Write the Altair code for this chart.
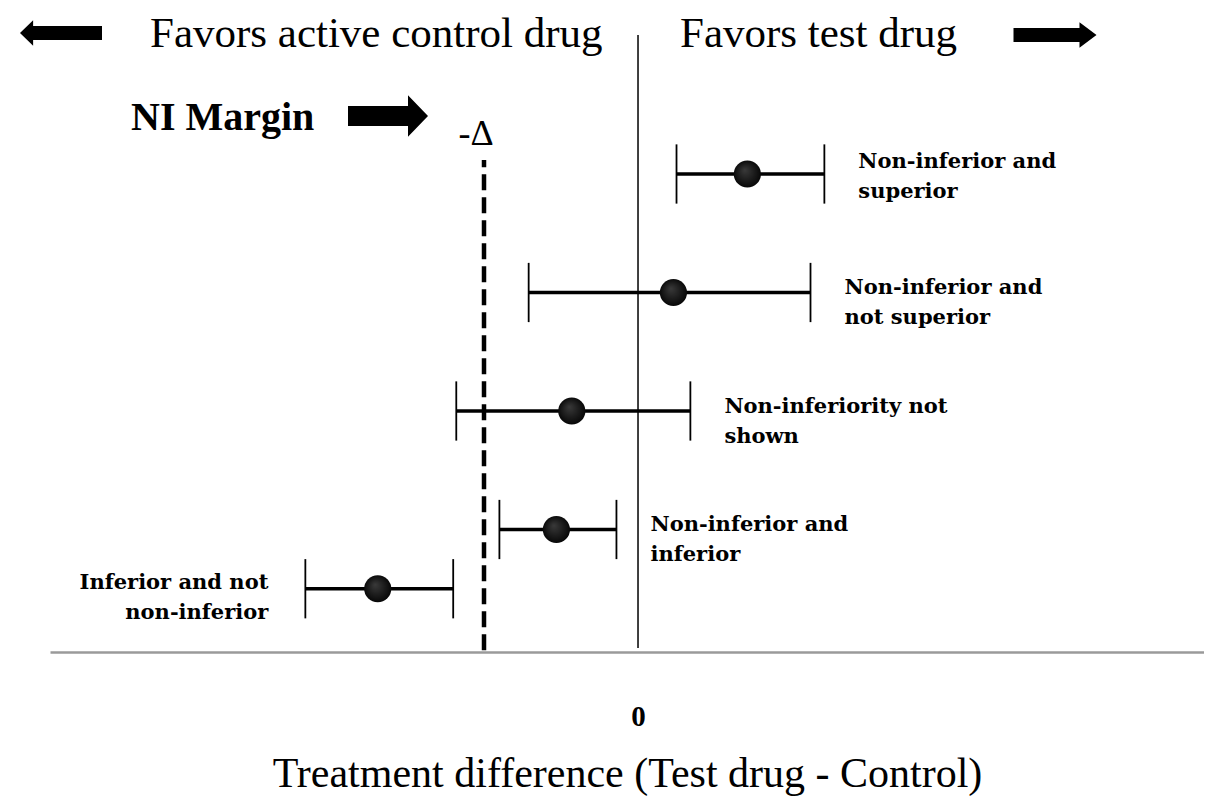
import altair as alt
import pandas as pd

# ---- data (treatment difference in units of the NI margin Δ) ----
labels = [
    "Non-inferior and\nsuperior",
    "Non-inferior and\nnot superior",
    "Non-inferiority not\nshown",
    "Non-inferior and\ninferior",
    "Inferior and not\nnon-inferior",
]
row_pos = [4.0, 3.0, 2.0, 1.0, 0.5]
ci_low = [0.25, -0.71, -1.18, -0.90, -2.16]
estimate = [0.71, 0.23, -0.43, -0.53, -1.69]
ci_high = [1.21, 1.12, 0.34, -0.14, -1.20]
label_side = ["right", "right", "right", "right", "left"]
ni_margin = [-1.0]
zero_ref = [0.0]

df = pd.DataFrame({
    "label": labels, "row": row_pos, "lo": ci_low, "est": estimate,
    "hi": ci_high, "side": label_side,
})
df["cap_lo"] = df["row"] - 0.25
df["cap_hi"] = df["row"] + 0.25

SERIF = "Liberation Serif"
LABEL_FONT = "DejaVu Serif"
W, H = 1154, 644
xs = alt.Scale(domain=[-3.818, 3.675], nice=False, zero=False)
ys = alt.Scale(domain=[-0.0338, 5.4008], nice=False, zero=False)

base = alt.Chart(df)

X_AX = alt.Axis(
    values=[0], labelExpr="'0'", ticks=False, grid=False,
    domainColor="#9a9a9a", domainWidth=2.5,
    labelFont=SERIF, labelFontSize=29, labelFontWeight="bold", labelColor="black",
    labelPadding=50, title="Treatment difference (Test drug - Control)",
    titleFont=SERIF, titleFontSize=42, titleFontWeight="normal", titleColor="black",
    titlePadding=22,
)

zero_df = pd.DataFrame({"x": zero_ref, "y1": [0.0], "y2": [5.173]})
zero_line = alt.Chart(zero_df).mark_rule(color="black", strokeWidth=1.5).encode(
    x=alt.X("x:Q", scale=xs, axis=X_AX),
    y=alt.Y("y1:Q", scale=ys, axis=None),
    y2="y2:Q",
)

ni_df = pd.DataFrame({"x": ni_margin, "y1": [-0.02], "y2": [4.118]})
ni_line = alt.Chart(ni_df).mark_rule(color="black", strokeWidth=4.5, strokeDash=[16, 7]).encode(
    x=alt.X("x:Q", scale=xs), y=alt.Y("y1:Q", scale=ys), y2="y2:Q",
)

bars = base.mark_rule(color="black", strokeWidth=3.5).encode(
    x=alt.X("lo:Q", scale=xs), x2="hi:Q", y=alt.Y("row:Q", scale=ys),
)
caps_lo = base.mark_rule(color="black", strokeWidth=1.8).encode(
    x=alt.X("lo:Q", scale=xs), y=alt.Y("cap_lo:Q", scale=ys), y2="cap_hi:Q",
)
caps_hi = base.mark_rule(color="black", strokeWidth=1.8).encode(
    x=alt.X("hi:Q", scale=xs), y=alt.Y("cap_lo:Q", scale=ys), y2="cap_hi:Q",
)
dots = base.mark_point(
    filled=True, opacity=1, size=740, shape="circle",
    fill={"gradient": "radial", "x1": 0.4, "y1": 0.35, "r1": 0.0,
          "x2": 0.5, "y2": 0.5, "r2": 0.55,
          "stops": [{"offset": 0, "color": "#3a3a3a"}, {"offset": 1, "color": "#030303"}]},
    stroke=None,
).encode(x=alt.X("est:Q", scale=xs), y=alt.Y("row:Q", scale=ys))

TXT = dict(baseline="middle", font=LABEL_FONT, fontWeight="bold", fontSize=21,
           lineBreak="\n", lineHeight=30, color="black")
lab_top = base.transform_filter("datum.side == 'right' && datum.row >= 4").mark_text(
    align="left", dx=34, dy=-12, **TXT,
).encode(x=alt.X("hi:Q", scale=xs), y=alt.Y("row:Q", scale=ys), text="label:N")
lab_right = base.transform_filter("datum.side == 'right' && datum.row < 4").mark_text(
    align="left", dx=34, dy=-4, **TXT,
).encode(x=alt.X("hi:Q", scale=xs), y=alt.Y("row:Q", scale=ys), text="label:N")
lab_left = base.transform_filter("datum.side == 'left'").mark_text(
    align="right", dx=-37, dy=-6, **TXT,
).encode(x=alt.X("lo:Q", scale=xs), y=alt.Y("row:Q", scale=ys), text="label:N")

# ---- annotations ----
ann = alt.Chart(pd.DataFrame({"a": [0]}))
hdr_left = ann.mark_text(text="Favors active control drug", align="left", baseline="alphabetic",
                         font=SERIF, fontSize=43, color="black").encode(
    x=alt.value(100), y=alt.value(39))
hdr_right = ann.mark_text(text="Favors test drug", align="left", baseline="alphabetic",
                          font=SERIF, fontSize=43, color="black").encode(
    x=alt.value(630), y=alt.value(39))
LEFT_ARROW = "M -1 0 L -0.68 -0.31 L -0.68 -0.17 L 1 -0.17 L 1 0.17 L -0.68 0.17 L -0.68 0.31 Z"
RIGHT_ARROW = "M 1 0 L 0.59 -0.31 L 0.59 -0.17 L -1 -0.17 L -1 0.17 L 0.59 0.17 L 0.59 0.31 Z"
NI_ARROW = "M 1 0 L 0.5 -0.52 L 0.5 -0.25 L -1 -0.25 L -1 0.25 L 0.5 0.25 L 0.5 0.52 Z"
arr_left = ann.mark_point(shape=LEFT_ARROW, filled=True, color="black", opacity=1, size=6724).encode(
    x=alt.value(11), y=alt.value(25))
arr_right = ann.mark_point(shape=RIGHT_ARROW, filled=True, color="black", opacity=1, size=6889).encode(
    x=alt.value(1005), y=alt.value(27))
ni_text = ann.mark_text(text="NI Margin", align="left", baseline="alphabetic",
                        font=SERIF, fontSize=40, fontWeight="bold", color="black").encode(
    x=alt.value(81), y=alt.value(122))
ni_arrow = ann.mark_point(shape=NI_ARROW, filled=True, color="black", opacity=1, size=6400).encode(
    x=alt.value(338), y=alt.value(108))
delta_text = ann.mark_text(text="-Δ", align="center", baseline="alphabetic",
                           font=SERIF, fontSize=36, color="black").encode(
    x=alt.value(426), y=alt.value(137))

chart = alt.layer(
    zero_line, ni_line, bars, caps_lo, caps_hi, dots, lab_top, lab_right, lab_left,
    hdr_left, hdr_right, arr_left, arr_right, ni_text, ni_arrow, delta_text,
).properties(
    width=W, height=H,
    autosize=alt.AutoSizeParams(type="none"),
    padding={"left": 42, "top": 0, "right": 0, "bottom": 145},
).configure(background="white").configure_view(stroke=None)

chart.save("out.html", embed_options={"renderer": "svg", "actions": False})
